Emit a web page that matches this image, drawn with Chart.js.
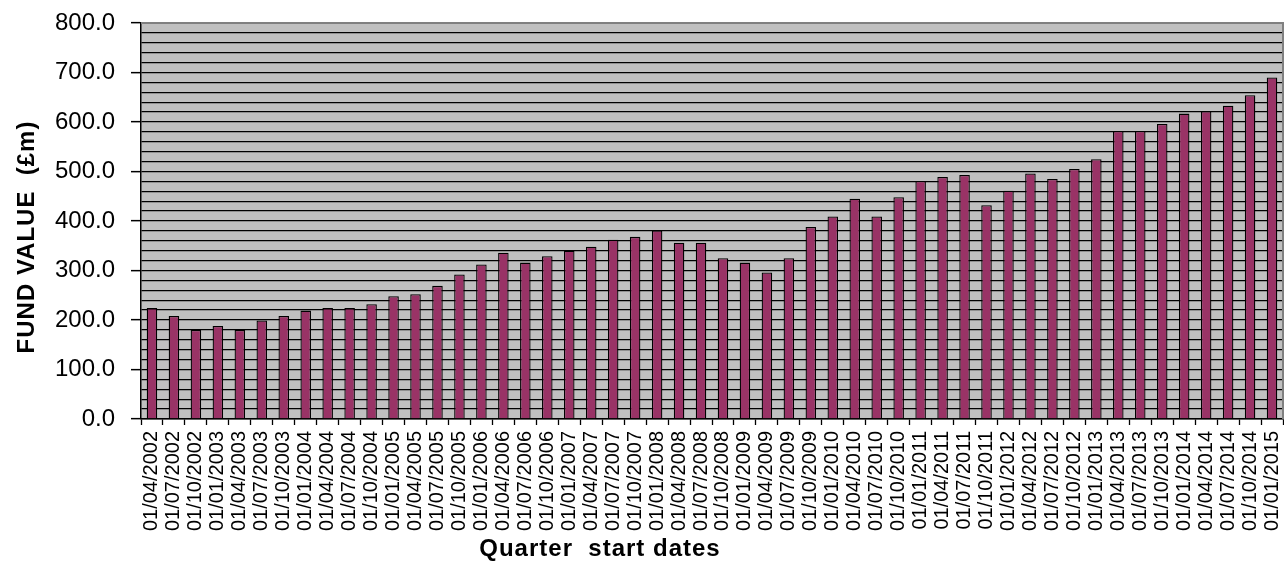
<!DOCTYPE html>
<html>
<head>
<meta charset="utf-8">
<script src="https://cdn.jsdelivr.net/npm/chart.js@4/dist/chart.umd.min.js"></script>
<style>
  html, body { margin: 0; padding: 0; background: #ffffff; }
  canvas { display: block; }
</style>
</head>
<body>
<canvas id="fund" width="1284" height="562"></canvas>
<script>
// Quarter start dates (category axis)
const quarters = [
  "01/04/2002","01/07/2002","01/10/2002",
  "01/01/2003","01/04/2003","01/07/2003","01/10/2003",
  "01/01/2004","01/04/2004","01/07/2004","01/10/2004",
  "01/01/2005","01/04/2005","01/07/2005","01/10/2005",
  "01/01/2006","01/04/2006","01/07/2006","01/10/2006",
  "01/01/2007","01/04/2007","01/07/2007","01/10/2007",
  "01/01/2008","01/04/2008","01/07/2008","01/10/2008",
  "01/01/2009","01/04/2009","01/07/2009","01/10/2009",
  "01/01/2010","01/04/2010","01/07/2010","01/10/2010",
  "01/01/2011","01/04/2011","01/07/2011","01/10/2011",
  "01/01/2012","01/04/2012","01/07/2012","01/10/2012",
  "01/01/2013","01/04/2013","01/07/2013","01/10/2013",
  "01/01/2014","01/04/2014","01/07/2014","01/10/2014",
  "01/01/2015"
];

// Fund value at each quarter start (£m)
const fundValues = [
  224, 208, 180,
  188, 180, 199, 208,
  219, 224, 224, 232,
  248, 252, 269, 292,
  312, 336, 316, 329,
  340, 348, 362, 368,
  381, 356, 356, 325,
  316, 296, 325, 388,
  409, 445, 409, 448,
  481, 489, 493, 432,
  461, 496, 485, 505,
  525, 582, 582, 596,
  617, 622, 633, 654,
  690
];

const yMin = 0;
const yMax = 800;
const yGridStep = 20;
const yLabelStep = 100;

const FONT = "'Liberation Sans', Arial, Helvetica, sans-serif";

// Grey plot background with a grey frame on the top and right edges
const plotFrame = {
  id: 'plotFrame',
  beforeDraw(chart) {
    const { ctx, chartArea: a } = chart;
    ctx.save();
    ctx.fillStyle = '#c0c0c0';
    ctx.fillRect(a.left, a.top, a.right - a.left, a.bottom - a.top);
    ctx.restore();
  },
  afterDatasetsDraw(chart) {
    const { ctx, chartArea: a } = chart;
    ctx.save();
    ctx.strokeStyle = '#808080';
    ctx.lineWidth = 2;
    ctx.beginPath();
    ctx.moveTo(a.left, a.top);
    ctx.lineTo(a.right, a.top);
    ctx.lineTo(a.right, a.bottom);
    ctx.stroke();
    ctx.restore();
  }
};

// Axis titles
const axisTitles = {
  id: 'axisTitles',
  afterDraw(chart) {
    const { ctx, chartArea: a } = chart;
    ctx.save();
    ctx.fillStyle = '#000000';
    ctx.font = "bold 24px " + FONT;
    ctx.letterSpacing = '1px';
    ctx.textAlign = 'center';
    ctx.textBaseline = 'alphabetic';
    ctx.fillText('Quarter  start dates', 600, 556);
    ctx.translate(34, (a.top + a.bottom) / 2 + 16);
    ctx.rotate(-Math.PI / 2);
    ctx.fillText('FUND VALUE  (£m)', 0, 0);
    ctx.restore();
  }
};

new Chart(document.getElementById('fund'), {
  type: 'bar',
  data: {
    labels: quarters,
    datasets: [{
      data: fundValues,
      backgroundColor: '#993366',
      borderColor: '#000000',
      borderWidth: 1.3,
      categoryPercentage: 1.0,
      barPercentage: 0.48
    }]
  },
  options: {
    responsive: false,
    animation: false,
    devicePixelRatio: 1,
    layout: { padding: { top: 23, right: 1, left: 0, bottom: 0 } },
    plugins: {
      legend: { display: false },
      tooltip: { enabled: false }
    },
    scales: {
      x: {
        offset: true,
        afterFit(scale) {
          scale.height = 143;
          scale.paddingLeft = 0;
          scale.paddingRight = 0;
        },
        grid: {
          offset: true,
          drawOnChartArea: false,
          drawTicks: true,
          tickLength: 6,
          tickColor: '#000000',
          tickWidth: 1.3
        },
        border: { display: true, color: '#000000', width: 1.5 },
        ticks: {
          autoSkip: false,
          minRotation: 90,
          maxRotation: 90,
          padding: 6,
          color: '#000000',
          font: { family: FONT, size: 20 }
        }
      },
      y: {
        min: yMin,
        max: yMax,
        afterFit(scale) {
          scale.width = 141;
          scale.paddingTop = 0;
          scale.paddingBottom = 0;
        },
        grid: {
          drawOnChartArea: true,
          color: (c) => (c.tick && c.tick.value === yMax) ? 'rgba(0,0,0,0)' : '#000000',
          lineWidth: 1.3,
          tickLength: 10,
          tickColor: (c) => (c.tick && c.tick.value % yLabelStep === 0) ? '#000000' : 'rgba(0,0,0,0)',
          tickWidth: 1.5
        },
        border: { display: true, color: '#000000', width: 1.5 },
        ticks: {
          stepSize: yGridStep,
          autoSkip: false,
          padding: 16,
          color: '#000000',
          font: { family: FONT, size: 24 },
          callback: (v) => (v % yLabelStep === 0) ? Number(v).toFixed(1) : ''
        }
      }
    }
  },
  plugins: [plotFrame, axisTitles]
});
</script>
</body>
</html>
